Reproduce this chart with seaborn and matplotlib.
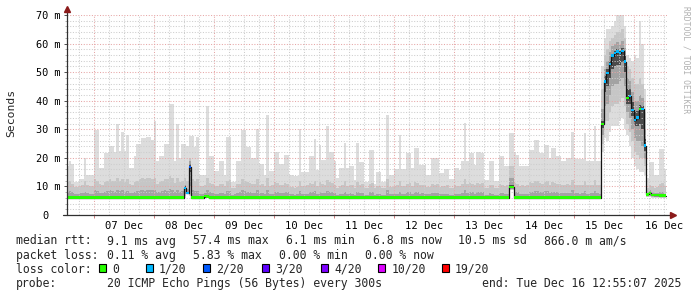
import numpy as np
import pandas as pd
import matplotlib
matplotlib.use("Agg")
import matplotlib.pyplot as plt
import matplotlib.dates as mdates
from matplotlib.ticker import MultipleLocator, FuncFormatter, NullFormatter
from matplotlib.patches import Rectangle
import seaborn as sns

# ---------------- data (hourly bins, Dec 6 12:55 -> Dec 16 12:55) ----------------
start_time = "2025-12-06 12:55:07"

rtt_max = [
    17, 19, 18, 11.7, 11.7, 12.6, 12.6, 19.8, 14, 14,
    14, 29.7, 29.7, 16.5, 16.5, 21.8, 21.8, 24.3, 24.3, 22,
    32, 22.5, 29, 22.5, 28, 16.5, 16.5, 20.5, 25, 25,
    26.8, 26.8, 27.4, 27.4, 26.2, 33, 19, 20.5, 20.5, 24.8,
    24.8, 39, 39, 18.9, 32, 20, 25, 25, 24, 27.6,
    27.6, 23.8, 27.4, 14, 14, 14, 38, 20.6, 20.6, 15.3,
    15.3, 18.9, 18.9, 14, 27.4, 27.4, 11.4, 11.4, 18.9, 18.9,
    29.7, 29.7, 23.8, 23.8, 19.8, 19.8, 30, 17.7, 17.7, 14,
    35, 15.3, 15.3, 22, 22, 17.7, 17.7, 21, 21, 14,
    14, 13.5, 13.5, 30, 15.2, 15.2, 15.2, 20.6, 20.6, 26.5,
    15.7, 24.5, 19.2, 19.2, 31.1, 22.1, 22.1, 18.9, 12.8, 16.3,
    16.3, 25.3, 16.3, 17.2, 17.2, 12.2, 25.3, 18.7, 18.7, 11.5,
    11.5, 22.8, 22.8, 11, 15.2, 15.2, 11.7, 11.7, 35, 14,
    14, 16, 16, 28, 16, 16, 21.8, 21.8, 16.3, 23.3,
    23.3, 17.5, 17.5, 17.5, 14, 14, 19.8, 19.8, 19.8, 14.8,
    14.8, 16, 16, 12.7, 12.7, 16.3, 16.3, 15.7, 18.9, 32.3,
    18.9, 21.6, 21.6, 17.5, 22.2, 22.2, 21.6, 12.4, 12.4, 18.9,
    18.9, 12, 12, 20.5, 20.5, 17, 17, 28.7, 28.7, 22.2,
    21, 17, 17, 17, 17, 22.7, 22.7, 26.3, 26.3, 21.6,
    21.6, 24.5, 24.5, 19.8, 23.3, 23.3, 20.5, 20.5, 19, 19,
    19.8, 19.8, 29.2, 19.8, 19.5, 19.5, 19.5, 28.7, 19, 19,
    19, 31.1, 18.9, 18.9, 52, 62, 65, 65, 66, 68,
    70, 70, 70, 66, 56, 55, 54, 56, 55, 68,
    60, 44, 13, 18.7, 18.7, 14, 14, 23, 23, 16,
]

rtt_p90 = [
    11.5, 12, 11, 9.8, 9.8, 10.2, 10.5, 11.8, 10.5, 10.2,
    10, 12.5, 12, 10.8, 10.5, 11.5, 12, 12.5, 12, 11.8,
    13, 12, 12.5, 11.5, 12.5, 10.8, 10.5, 11.5, 12, 12.5,
    12.8, 12.5, 12.8, 13, 12.5, 13, 11, 11.5, 11.8, 12.5,
    12.5, 13.5, 13, 11.2, 12.8, 11.5, 12, 13, 12, 20,
    12.5, 12, 12.5, 10.2, 10, 10.5, 12.8, 11.2, 11, 10.2,
    10, 10.8, 11, 10, 12, 12.2, 9.5, 9.6, 10.8, 11,
    12.5, 12, 11.5, 11.2, 11, 10.8, 12.5, 10.5, 10.8, 10,
    12.8, 10.2, 10.4, 11.5, 11.2, 10.6, 10.5, 11.2, 11, 9.8,
    9.8, 9.6, 9.8, 12, 10.2, 10, 10.4, 11.2, 11, 12,
    10.2, 11.5, 10.8, 10.6, 12.4, 11.4, 11.2, 10.6, 9.6, 10.2,
    10.4, 11.8, 10.2, 10.5, 10.4, 9.5, 11.5, 10.6, 10.8, 9.4,
    9.5, 11, 11.2, 9.3, 10, 10.2, 9.6, 9.5, 12.5, 9.8,
    9.8, 10.2, 10.4, 11.8, 10.2, 10, 11, 11.2, 10.2, 11.4,
    11.2, 10.4, 10.6, 10.4, 9.8, 9.9, 10.8, 10.6, 10.8, 9.9,
    10, 10.2, 10.4, 9.6, 9.5, 10.4, 10.2, 10, 10.8, 12.5,
    10.8, 11.2, 11, 10.4, 11.2, 11, 11.2, 9.5, 9.6, 10.6,
    10.4, 9.4, 9.5, 10.8, 10.6, 10.2, 10.4, 17, 17, 11.2,
    11, 10.2, 10.4, 10.2, 10.4, 11.4, 11.2, 11.8, 12, 11.2,
    11, 11.6, 11.8, 10.6, 11.4, 11.2, 11, 10.8, 10.6, 10.5,
    10.8, 10.6, 12.4, 10.5, 10.6, 10.4, 10.5, 12, 10.4, 10.6,
    10.5, 12.2, 10.5, 10.4, 44, 56, 58, 61, 62, 63,
    64, 64, 65, 62, 52, 51, 48, 46, 46, 48,
    46, 36, 9.5, 10.5, 10.2, 9.6, 9.8, 11, 11.2, 10,
]

rtt_p75 = [
    8.2, 8.5, 8, 7.4, 7.5, 7.6, 7.8, 8.2, 7.6, 7.5,
    7.4, 8.6, 8.4, 7.8, 7.6, 8.2, 8.4, 8.6, 8.5, 8.2,
    8.8, 8.4, 8.6, 8.2, 8.5, 7.8, 7.6, 8, 8.4, 8.6,
    8.7, 8.5, 8.8, 8.8, 8.6, 8.9, 8, 8.2, 8.3, 8.6,
    8.5, 9, 8.8, 8, 8.6, 8.2, 8.4, 10.5, 9, 19,
    8.6, 8.3, 8.5, 7.5, 7.4, 7.6, 8.6, 8, 7.8, 7.4,
    7.3, 7.6, 7.8, 7.3, 8.4, 8.5, 7.1, 7.2, 7.8, 7.9,
    8.6, 8.4, 8.2, 8, 7.8, 7.8, 8.6, 7.6, 7.7, 7.3,
    8.6, 7.4, 7.5, 8.1, 8, 7.7, 7.6, 8, 7.9, 7.2,
    7.2, 7.1, 7.2, 8.3, 7.4, 7.3, 7.5, 8, 7.9, 8.4,
    7.4, 8.1, 7.8, 7.7, 8.5, 8, 8, 7.7, 7.1, 7.4,
    7.5, 8.2, 7.4, 7.6, 7.5, 7, 8, 7.7, 7.8, 7,
    7.1, 7.9, 8, 7, 7.3, 7.4, 7.1, 7, 8.6, 7.2,
    7.2, 7.4, 7.5, 8.2, 7.4, 7.3, 7.9, 8, 7.4, 8.1,
    8, 7.5, 7.6, 7.5, 7.2, 7.2, 7.8, 7.7, 7.8, 7.2,
    7.3, 7.4, 7.5, 7, 7, 7.5, 7.4, 7.3, 7.8, 8.6,
    7.8, 8, 7.9, 7.5, 8, 7.9, 8, 7, 7.1, 7.7,
    7.5, 7, 7, 7.8, 7.7, 7.4, 7.5, 13, 13, 8,
    7.9, 7.4, 7.5, 7.4, 7.5, 8.2, 8, 8.4, 8.5, 8,
    7.9, 8.3, 8.4, 7.7, 8.2, 8, 7.9, 7.8, 7.7, 7.6,
    7.8, 7.7, 8.6, 7.6, 7.7, 7.5, 7.6, 8.4, 7.5, 7.7,
    7.6, 8.5, 7.6, 7.5, 37, 51, 54, 57, 59, 60,
    60.5, 60, 61, 58.5, 48, 47, 43, 40, 40, 42,
    41, 30, 8.2, 8.6, 8, 7.6, 7.6, 7.9, 8, 7.5,
]

rtt_median = ([6.1] * 47 + [9.5, 7.6, 16.8] + [6.1] * 5 + [6.7, 6.5] + [6.1] * 120
              + [9.7, 9.7] + [6.1] * 35
              + [31.8, 46.7, 49.7, 52.9, 55.8, 56.6, 57.2, 56.6, 57.4, 53.7,
                 41.0, 41.6, 36.7, 33.3, 34.1, 37.1, 37.0, 24.3]
              + [7.2, 7.6, 7.0, 6.9, 6.9, 6.8, 6.8, 6.8])

rtt_min = ([5.9] * 47 + [6.0, 7.2, 6.5] + [5.9] * 127 + [8.6, 8.6] + [5.9] * 35
           + [22, 27, 26, 29, 31, 31, 31, 33, 34, 30, 28, 24, 20, 17, 16, 15, 15, 14]
           + [6.2, 6.3, 6.1, 6.0, 6.0, 6.0, 6.0, 6.0])
rtt_p10 = ([6.0] * 47 + [6.5, 7.3, 7.0] + [6.0] * 127 + [8.8, 8.8] + [6.0] * 35
           + [25, 33, 33, 36, 38, 39, 39, 40, 41, 38, 32, 29, 26, 22, 21, 20, 20, 17]
           + [6.4, 6.5, 6.3, 6.2, 6.2, 6.2, 6.2, 6.2])
rtt_p25 = ([6.05] * 47 + [7.5, 7.4, 10.0] + [6.05] * 127 + [9.1, 9.1] + [6.05] * 35
           + [28, 38, 39, 42, 45, 46, 46, 47, 48, 45, 36, 34, 30, 27, 26, 26, 24, 19.5]
           + [6.6, 6.8, 6.5, 6.4, 6.4, 6.4, 6.4, 6.4])
rtt_p40 = ([6.1] * 47 + [9.0, 7.5, 15.0] + [6.1] * 127 + [9.5, 9.5] + [6.1] * 35
           + [30.5, 43, 45, 48, 51, 52, 52.5, 52.5, 53.5, 50, 39, 39, 34.5, 31, 31, 32, 30, 22.5]
           + [6.9, 7.3, 6.8, 6.7, 6.7, 6.6, 6.6, 6.6])
rtt_p60 = ([6.2] * 47 + [10.0, 7.9, 18.0] + [6.2] * 127 + [10.5, 10.5] + [6.2] * 35
           + [33, 48.5, 51, 54, 56.5, 57.5, 58, 57.5, 58.5, 55.5, 44, 44, 39.5, 36, 36.5, 38.5, 38, 26.5]
           + [7.5, 7.9, 7.3, 7.2, 7.2, 7.1, 7.1, 7.1])

loss = ([0] * 47 + [1, 1, 2] + [0] * 164
        + [0, 1, 1, 1, 1, 1, 1, 1, 1, 1, 0, 1, 1, 1, 1, 0, 1, 1] + [0] * 8)

loss_levels = [0, 1, 2, 3, 4, 10, 19]
loss_labels = ["0", "1/20", "2/20", "3/20", "4/20", "10/20", "19/20"]
loss_colors = ["#26ff00", "#00b8ff", "#0059ff", "#5e00ff", "#7e00ff", "#dd00ff", "#ff0000"]

y_ticks = [0, 10, 20, 30, 40, 50, 60, 70]
y_tick_labels = ["0", "10 m", "20 m", "30 m", "40 m", "50 m", "60 m", "70 m"]

rtt_stats = ["9.1 ms avg", "57.4 ms max", "6.1 ms min", "6.8 ms now", "10.5 ms sd", "866.0 m am/s"]
loss_stats = ["0.11 % avg", "5.83 % max", "0.00 % min", "0.00 % now"]
probe_text = "20 ICMP Echo Pings (56 Bytes) every 300s"
end_text = "end: Tue Dec 16 12:55:07 2025"

# ---------------- figure ----------------
sns.set_theme(style="white")
plt.rcParams["font.family"] = ["DejaVu Sans Mono"]

W, H = 697, 297
fig = plt.figure(figsize=(W / 100, H / 100), dpi=100)
fig.patch.set_facecolor("white")
ax = fig.add_axes([66.5 / W, (H - 215) / H, 600 / W, 200 / H])
ax.set_facecolor("white")

n = len(rtt_median)
edges = pd.date_range(pd.Timestamp(start_time), periods=n + 1, freq="h")
xe = mdates.date2num(edges.to_pydatetime())


def ext(a):
    a = np.asarray(a, dtype=float)
    return np.append(a, a[-1])


bands = [
    (rtt_min, rtt_max, "#dddddd"),
    (rtt_p10, rtt_p90, "#c6c6c6"),
    (rtt_p25, rtt_p75, "#a3a3a3"),
    (rtt_p40, rtt_p60, "#4a4a4a"),
]
for lo, hi, col in bands:
    ax.fill_between(xe, ext(lo), ext(hi), step="post", color=col, lw=0, zorder=1)

# median line (dark) through seaborn
sns.lineplot(x=xe, y=ext(rtt_median), drawstyle="steps-post", color="#141414",
             lw=0.9, ax=ax, estimator=None, errorbar=None, zorder=3, sort=False)

# loss coloured median marks
cmap = dict(zip(loss_levels, loss_colors))
med = np.asarray(rtt_median, dtype=float)
sw = 0.42
ax.bar(xe[:-1], 2 * sw, width=np.diff(xe), bottom=med - sw, align="edge",
       color=[cmap[l] for l in loss], linewidth=0, antialiased=False, zorder=4)

# axes limits, grid
ax.set_xlim(xe[0], xe[-1])
ax.set_ylim(0, 70)
for s in ax.spines.values():
    s.set_visible(False)

ax.xaxis.set_major_locator(mdates.DayLocator())
ax.xaxis.set_minor_locator(mdates.HourLocator(byhour=[0, 6, 12, 18]))
ax.xaxis.set_major_formatter(NullFormatter())


def xfmt(x, pos):
    d = mdates.num2date(x)
    return d.strftime("%d %b") if d.hour == 12 else ""


ax.xaxis.set_minor_formatter(FuncFormatter(xfmt))
ax.yaxis.set_minor_locator(MultipleLocator(2))
ax.set_yticks(y_ticks)
ax.set_yticklabels([lab + ("  " if lab == "0" else "") for lab in y_tick_labels])

ax.set_axisbelow(False)
ax.grid(which="major", color="#e6a6a6", lw=0.75, linestyle=(0, (1, 1.6)))
ax.grid(which="minor", color="#cdcdcd", lw=0.75, linestyle=(0, (1, 1.6)))

ax.tick_params(axis="x", which="major", length=2.2, width=0.7, color="#d08080",
               labelbottom=False, bottom=True)
ax.tick_params(axis="x", which="minor", length=0, pad=4.4, labelsize=7.6,
               labelcolor="#000000", bottom=True)
ax.tick_params(axis="y", which="major", length=2.2, width=0.7, color="#505050",
               pad=1.8, labelsize=7.4, labelcolor="#000000", left=True)
ax.tick_params(axis="y", which="minor", length=1.4, width=0.6, color="#a0a0a0", left=True)

# axis lines with arrows
ax.plot([0, 0], [0, 1.025], transform=ax.transAxes, color="#303030", lw=0.9,
        clip_on=False, zorder=6)
ax.plot([-4 / 600, 1.008], [0, 0], transform=ax.transAxes, color="#303030", lw=0.9,
        clip_on=False, zorder=6)
ax.plot([0], [1.03], transform=ax.transAxes, marker="^", ms=4.2, color="#8b1a1a",
        mec="#8b1a1a", clip_on=False, zorder=7)
ax.plot([1.01], [0], transform=ax.transAxes, marker=">", ms=4.2, color="#8b1a1a",
        mec="#8b1a1a", clip_on=False, zorder=7)

ax.set_xlabel("")
ax.set_ylabel("")


# ---------------- labels / legend ----------------
def fx(px):
    return px / W


def fy(py):
    return (H - py) / H


LFS = 8.3
fig.text(fx(11), fy(113), "Seconds", rotation=90, ha="center", va="center", fontsize=8.2)
fig.text(fx(686), fy(60), "RRDTOOL / TOBI OETIKER", rotation=270, ha="center",
         va="center", fontsize=5.8, color="#b0b0b0")

row1 = 244.5
fig.text(fx(15.7), fy(row1), "median rtt:", fontsize=LFS, va="baseline")
for xp, t in zip([107.3, 192.7, 286, 372.7, 458, 544], rtt_stats):
    fig.text(fx(xp), fy(row1), t, fontsize=LFS, va="baseline")

row2 = 259.2
fig.text(fx(15.7), fy(row2), "packet loss:", fontsize=LFS, va="baseline")
for xp, t in zip([107.3, 192.7, 279.3, 365], loss_stats):
    fig.text(fx(xp), fy(row2), t, fontsize=LFS, va="baseline")

row3 = 273.0
fig.text(fx(15.7), fy(row3), "loss color:", fontsize=LFS, va="baseline")
for bx, lab, col in zip([99, 145.7, 203.3, 262.3, 321, 378.3, 441.7], loss_labels, loss_colors):
    fig.patches.append(Rectangle((fx(bx), fy(272.3)), 7 / W, 8 / H, transform=fig.transFigure,
                                 facecolor=col, edgecolor="#000000", lw=0.8))
    fig.text(fx(bx + 13), fy(row3), lab, fontsize=LFS, va="baseline")

row4 = 287.2
fig.text(fx(15.7), fy(row4), "probe:", fontsize=LFS, va="baseline")
fig.text(fx(107.3), fy(row4), probe_text, fontsize=LFS, va="baseline")
fig.text(fx(681), fy(row4), end_text, fontsize=LFS, va="baseline", ha="right")

fig.savefig("out.png", dpi=100, facecolor="white")
